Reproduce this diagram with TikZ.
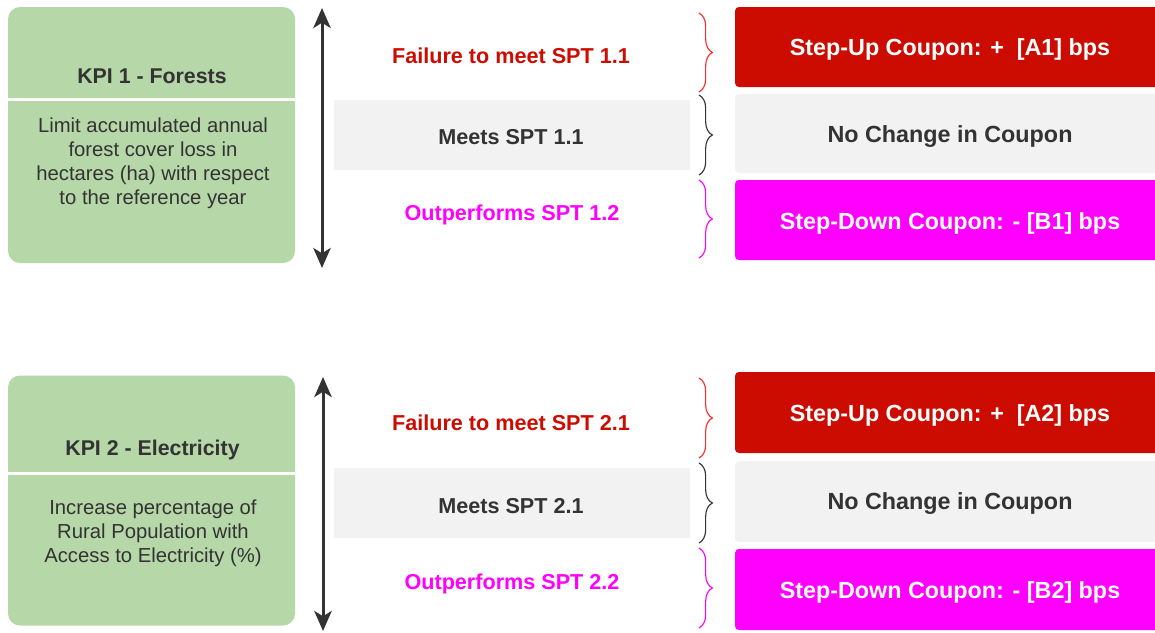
\documentclass[tikz,border=0pt]{standalone}
\usepackage{fontspec}
\setmainfont{Liberation Sans}
\usetikzlibrary{arrows.meta,decorations.pathreplacing}
\definecolor{kgreen}{HTML}{B6D7A8}
\definecolor{kred}{HTML}{CC0C00}
\definecolor{kmag}{HTML}{FF00FF}
\definecolor{kgray}{HTML}{F2F2F2}
\definecolor{kdark}{HTML}{333333}
\definecolor{kbrred}{HTML}{FF2A2A}
\begin{document}
\begin{tikzpicture}[x=0.75pt,y=-0.75pt,
  box/.style 2 args={draw=none, inner sep=0pt, minimum width=#1*0.75pt, minimum height=#2*0.75pt},
  kpibox/.style={fill=kgreen, rounded corners=9pt},
  outbox/.style={rounded corners=3pt},
  divider/.style={draw=white, line width=2.25pt},
  kpititle/.style={font=\fontsize{16}{19}\selectfont\bfseries, text=kdark},
  kpidesc/.style={font=\fontsize{15.2}{18}\selectfont, text=kdark, align=center},
  midtxt/.style={font=\fontsize{16.2}{19}\selectfont\bfseries},
  outtxt/.style={font=\fontsize{17.5}{21}\selectfont\bfseries},
  scale arrow/.style={draw=kdark, line width=2.25pt, {Stealth[length=15pt,width=13pt,inset=4pt]}-{Stealth[length=15pt,width=13pt,inset=4pt]}},
  bracebase/.style={decorate, decoration={brace, amplitude=10pt}, line width=0.85pt},
]
\useasboundingbox (0,0) rectangle (1155,632);

% ---------- KPI 1 ----------
\node[box={287}{256}, kpibox] (kpi1) at (151.5,135) {};
\coordinate (d1l) at (8,99); \coordinate (d1r) at (295,99);
\draw[divider] (d1l) -- (d1r);
\node[kpititle] (t1) at (152,76) {KPI 1 - Forests};
\node[kpidesc] (s1) at (153,163) {Limit accumulated annual\\forest cover loss in\\hectares (ha) with respect\\to the reference year};

\coordinate (a1t) at (322,8); \coordinate (a1b) at (322,268);
\draw[scale arrow] (a1t) -- (a1b);

\node[midtxt, text=kred] (f1) at (511,56) {Failure to meet SPT 1.1};
\node[box={356}{70}, fill=kgray] (mb1) at (512,135) {};
\node[midtxt, text=kdark] (m1) at (511,137) {Meets SPT 1.1};
\node[midtxt, text=kmag] (o1) at (512,215) {Outperforms SPT 1.2};

\coordinate (b1a) at (699,13); \coordinate (b1b) at (699,92);
\coordinate (b1c) at (699,95); \coordinate (b1d) at (699,175);
\coordinate (b1e) at (699,180); \coordinate (b1f) at (699,258);
\draw[bracebase, draw=kbrred] (b1a) -- (b1b);
\draw[bracebase, draw=kdark] (b1c) -- (b1d);
\draw[bracebase, draw=kmag] (b1e) -- (b1f);

\node[box={430}{80}, outbox, fill=kred] (r1) at (950,47) {};
\node[outtxt, text=white] (r1t) at (950,49) {Step-Up Coupon: +\ \ [A1] bps};
\node[box={430}{79}, outbox, fill=kgray] (g1) at (950,133.5) {};
\node[outtxt, text=kdark] (g1t) at (950,137) {No Change in Coupon};
\node[box={430}{80}, outbox, fill=kmag] (p1) at (950,220) {};
\node[outtxt, text=white] (p1t) at (950,223) {Step-Down Coupon: - [B1] bps};

% ---------- KPI 2 ----------
\node[box={287}{250}, kpibox] (kpi2) at (151.5,500.5) {};
\coordinate (d2l) at (8,473); \coordinate (d2r) at (295,473);
\draw[divider] (d2l) -- (d2r);
\node[kpititle] (t2) at (152.5,450) {KPI 2 - Electricity};
\node[kpidesc] (s2) at (153,533.5) {Increase percentage of\\Rural Population with\\Access to Electricity (\%)};

\coordinate (a2t) at (323,377); \coordinate (a2b) at (323,631);
\draw[scale arrow] (a2t) -- (a2b);

\node[midtxt, text=kred] (f2) at (511,423) {Failure to meet SPT 2.1};
\node[box={356}{70}, fill=kgray] (mb2) at (512,503) {};
\node[midtxt, text=kdark] (m2) at (511,506) {Meets SPT 2.1};
\node[midtxt, text=kmag] (o2) at (512,584) {Outperforms SPT 2.2};

\coordinate (b2a) at (699,378); \coordinate (b2b) at (699,458);
\coordinate (b2c) at (699,463); \coordinate (b2d) at (699,543);
\coordinate (b2e) at (699,548); \coordinate (b2f) at (699,628);
\draw[bracebase, draw=kbrred] (b2a) -- (b2b);
\draw[bracebase, draw=kdark] (b2c) -- (b2d);
\draw[bracebase, draw=kmag] (b2e) -- (b2f);

\node[box={430}{81}, outbox, fill=kred] (r2) at (950,412.5) {};
\node[outtxt, text=white] (r2t) at (950,415) {Step-Up Coupon: +\ \ [A2] bps};
\node[box={430}{81}, outbox, fill=kgray] (g2) at (950,501.5) {};
\node[outtxt, text=kdark] (g2t) at (950,504) {No Change in Coupon};
\node[box={430}{81}, outbox, fill=kmag] (p2) at (950,589.5) {};
\node[outtxt, text=white] (p2t) at (950,592) {Step-Down Coupon: - [B2] bps};
\end{tikzpicture}
\end{document}
